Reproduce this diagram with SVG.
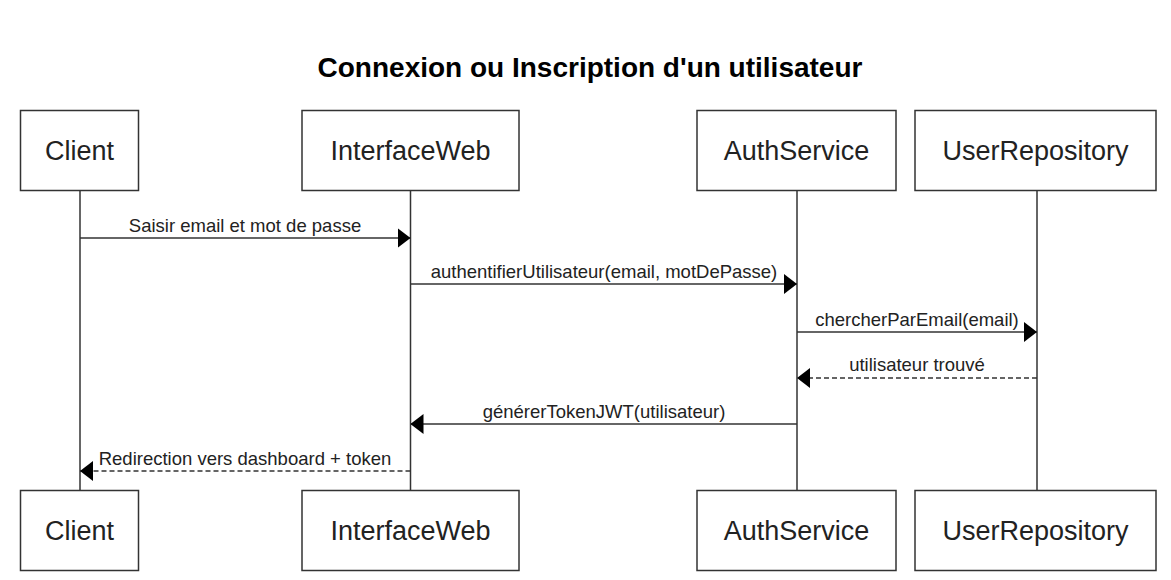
<svg xmlns="http://www.w3.org/2000/svg" width="1171" height="580" viewBox="0 0 1171 580">
<style>
.box{fill:#fff;stroke:#333;stroke-width:1.5}
.life{stroke:#333;stroke-width:1.5}
.msg{stroke:#333;stroke-width:1.5;fill:none}
.dash{stroke-dasharray:5 3}
.actor{font-family:"Liberation Sans",Arial,sans-serif;font-size:27px;fill:#222;text-anchor:middle}
.lbl{font-family:"Liberation Sans",Arial,sans-serif;font-size:18.5px;fill:#222;text-anchor:middle}
.title{font-family:"Liberation Sans",Arial,sans-serif;font-size:28px;font-weight:bold;fill:#000;text-anchor:middle}
</style>
<defs>
<marker id="ah" viewBox="0 0 13 20" refX="13" refY="10" markerWidth="13" markerHeight="20" markerUnits="userSpaceOnUse" orient="auto">
<path d="M0,0 L13,10 L0,20 z" fill="#000"/>
</marker>
</defs>
<rect width="1171" height="580" fill="#fff"/>
<text class="title" x="590" y="77">Connexion ou Inscription d'un utilisateur</text>
<g id="lifelines">
<line class="life" x1="80" y1="190.5" x2="80" y2="490.5"/>
<line class="life" x1="410.5" y1="190.5" x2="410.5" y2="490.5"/>
<line class="life" x1="797" y1="190.5" x2="797" y2="490.5"/>
<line class="life" x1="1037" y1="190.5" x2="1037" y2="490.5"/>
</g>
<g id="client">
<rect class="box" x="20.5" y="110.5" width="118" height="80"/>
<text class="actor" x="79.5" y="160">Client</text>
<rect class="box" x="20.5" y="490.5" width="118" height="80"/>
<text class="actor" x="79.5" y="540">Client</text>
</g>
<g id="interfaceweb">
<rect class="box" x="302" y="110.5" width="217" height="80"/>
<text class="actor" x="410.5" y="160">InterfaceWeb</text>
<rect class="box" x="302" y="490.5" width="217" height="80"/>
<text class="actor" x="410.5" y="540">InterfaceWeb</text>
</g>
<g id="authservice">
<rect class="box" x="697" y="110.5" width="199" height="80"/>
<text class="actor" x="796.5" y="160">AuthService</text>
<rect class="box" x="697" y="490.5" width="199" height="80"/>
<text class="actor" x="796.5" y="540">AuthService</text>
</g>
<g id="userrepository">
<rect class="box" x="915" y="110.5" width="241" height="80"/>
<text class="actor" x="1035.5" y="160">UserRepository</text>
<rect class="box" x="915" y="490.5" width="241" height="80"/>
<text class="actor" x="1035.5" y="540">UserRepository</text>
</g>
<g id="connectors">
<line class="msg" x1="80" y1="238" x2="410.5" y2="238" marker-end="url(#ah)"/>
<text class="lbl" x="245" y="232">Saisir email et mot de passe</text>
<line class="msg" x1="410.5" y1="284" x2="797" y2="284" marker-end="url(#ah)"/>
<text class="lbl" x="604" y="277.5">authentifierUtilisateur(email, motDePasse)</text>
<line class="msg" x1="797" y1="332" x2="1037" y2="332" marker-end="url(#ah)"/>
<text class="lbl" x="917" y="325.5">chercherParEmail(email)</text>
<line class="msg dash" x1="1037" y1="378" x2="797" y2="378" marker-end="url(#ah)"/>
<text class="lbl" x="917" y="371">utilisateur trouvé</text>
<line class="msg" x1="797" y1="424" x2="410.5" y2="424" marker-end="url(#ah)"/>
<text class="lbl" x="604" y="417.5">générerTokenJWT(utilisateur)</text>
<line class="msg dash" x1="410.5" y1="471" x2="80" y2="471" marker-end="url(#ah)"/>
<text class="lbl" x="245" y="464.5">Redirection vers dashboard + token</text>
</g>
</svg>
